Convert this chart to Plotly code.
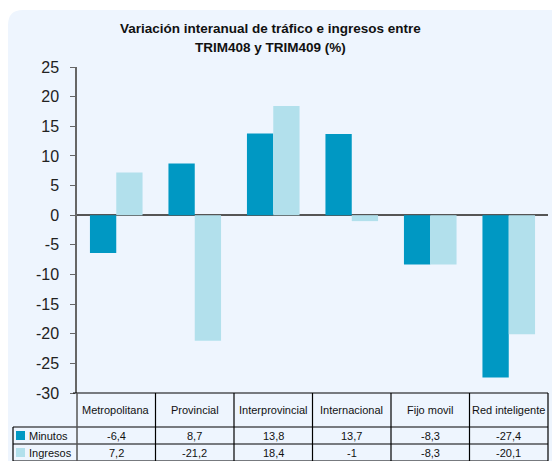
import plotly.graph_objects as go

categories = ["Metropolitana", "Provincial", "Interprovincial", "Internacional", "Fijo movil", "Red inteligente"]
minutos = [-6.4, 8.7, 13.8, 13.7, -8.3, -27.4]
ingresos = [7.2, -21.2, 18.4, -1, -8.3, -20.1]
series_names = ["Minutos", "Ingresos"]
title_lines = ["Variación interanual de tráfico e ingresos entre", "TRIM408 y TRIM409 (%)"]
y_ticks = list(range(-30, 30, 5))

C_MIN = "#0098c3"
C_ING = "#b2e0ec"
BG = "#eef5fe"
FONT = "Liberation Sans, Arial, sans-serif"

OFF = 8  # page body margin
W, H = 560 - OFF, 461 - OFF
L, R, T, B = 77 - OFF, 548 - OFF, 67 - OFF, 393 - OFF  # plot area pixels in figure coords


def px(x):
    return (x - OFF - L) / (R - L)


def py(y):
    return (B - (y - OFF)) / (B - T)


def fmt(v):
    return ("%g" % v).replace(".", ",")


fig = go.Figure()
fig.add_trace(go.Bar(x=categories, y=minutos, name=series_names[0], marker_color=C_MIN, marker_line_width=0))
fig.add_trace(go.Bar(x=categories, y=ingresos, name=series_names[1], marker_color=C_ING, marker_line_width=0))

shapes = []
# rounded background panel (page coords)
x0, y0, x1, y1, r = 8, 10, 600, 500, 15
path = (f"M {px(x0)},{py(y0 + r)} Q {px(x0)},{py(y0)} {px(x0 + r)},{py(y0)} "
        f"L {px(x1)},{py(y0)} L {px(x1)},{py(y1)} L {px(x0)},{py(y1)} Z")
shapes.append(dict(type="path", xref="paper", yref="paper", path=path,
                   fillcolor=BG, line=dict(width=0), layer="below"))

line = dict(color="#000000", width=1.2)
# table horizontal lines
shapes.append(dict(type="line", xref="paper", yref="paper", x0=px(73), x1=px(548), y0=py(393), y1=py(393), line=line))
for yy in (427, 444, 461):
    shapes.append(dict(type="line", xref="paper", yref="paper", x0=px(13), x1=px(548), y0=py(yy), y1=py(yy), line=line))
# left border of legend column
shapes.append(dict(type="line", xref="paper", yref="paper", x0=px(13), x1=px(13), y0=py(427), y1=py(470), line=line))
# vertical cell lines (category boundaries)
n = len(categories)
for k in range(n + 1):
    xb = k / n
    shapes.append(dict(type="line", xref="paper", yref="paper", x0=xb, x1=xb, y0=py(393), y1=py(470),
                       line=dict(color="#555555" if k == 0 else "#000000", width=1.5 if k == 0 else 1.2)))

# legend swatches
shapes.append(dict(type="rect", xref="paper", yref="paper", x0=px(16), x1=px(25), y0=py(440), y1=py(431),
                   fillcolor=C_MIN, line=dict(width=0)))
shapes.append(dict(type="rect", xref="paper", yref="paper", x0=px(16), x1=px(25), y0=py(457), y1=py(448),
                   fillcolor=C_ING, line=dict(width=0)))

tf = dict(size=11, color="#111111", family=FONT)
annotations = []
# title (two lines)
for txt, yy in zip(title_lines, (28, 48)):
    annotations.append(dict(x=px(270), y=py(yy), xref="paper", yref="paper", text=f"<b>{txt}</b>", showarrow=False,
                            font=dict(family=FONT, size=13.5, color="#111111"), xanchor="center", yanchor="middle"))
for i, c in enumerate(categories):
    xc = (i + 0.5) / n
    annotations.append(dict(x=xc, y=py(410), xref="paper", yref="paper", text=c, showarrow=False,
                            font=tf, xanchor="center", yanchor="middle"))
    annotations.append(dict(x=xc, y=py(435.5), xref="paper", yref="paper", text=fmt(minutos[i]), showarrow=False,
                            font=tf, xanchor="center", yanchor="middle"))
    annotations.append(dict(x=xc, y=py(452.5), xref="paper", yref="paper", text=fmt(ingresos[i]), showarrow=False,
                            font=tf, xanchor="center", yanchor="middle"))
annotations.append(dict(x=px(27), y=py(435.5), xref="paper", yref="paper", text=series_names[0], showarrow=False,
                        font=tf, xanchor="left", yanchor="middle"))
annotations.append(dict(x=px(27), y=py(452.5), xref="paper", yref="paper", text=series_names[1], showarrow=False,
                        font=tf, xanchor="left", yanchor="middle"))

fig.update_layout(
    width=W, height=H,
    margin=dict(l=L, r=W - R, t=T, b=H - B, pad=0),
    paper_bgcolor="#ffffff",
    plot_bgcolor="rgba(0,0,0,0)",
    barmode="group",
    bargap=0.33,
    bargroupgap=0,
    showlegend=False,
    xaxis=dict(showticklabels=False, showline=False, showgrid=False, zeroline=False, ticks=""),
    yaxis=dict(range=[-30, 25], tickvals=y_ticks, ticktext=[str(v) for v in y_ticks],
               showgrid=False, showline=True, linecolor="#666666", linewidth=1.5,
               ticks="outside", ticklen=5, tickcolor="#666666", tickwidth=1,
               ticklabelstandoff=8,
               zeroline=True, zerolinecolor="#555555", zerolinewidth=2,
               tickfont=dict(family=FONT, size=16, color="#222222")),
    shapes=shapes,
    annotations=annotations,
)

fig.write_html("out.html")
